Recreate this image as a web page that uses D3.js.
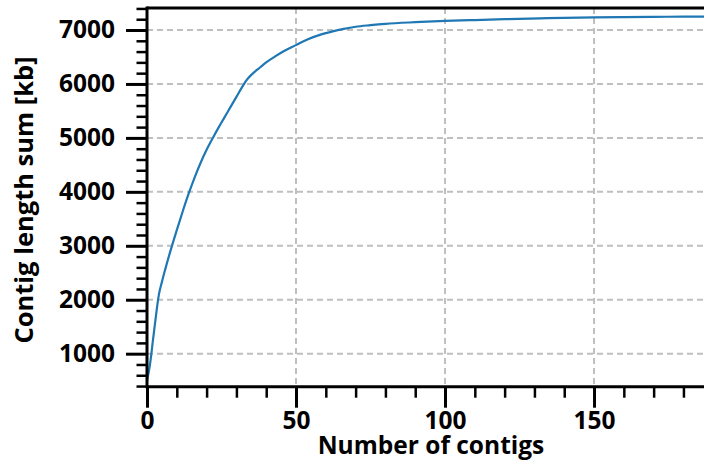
<!DOCTYPE html>
<html>
<head>
<meta charset="utf-8">
<script src="https://cdn.jsdelivr.net/npm/d3@7"></script>
<style>
  html, body { margin: 0; padding: 0; background: #fff; }
  svg { display: block; }
  text { font-family: "Open Sans", sans-serif; font-weight: 700; fill: #000; }
</style>
</head>
<body>
<svg id="chart" width="704" height="464"></svg>
<script>
// Data
const contigCount = [0, 1, 2, 3, 4, 5, 6, 8, 10, 12, 14, 16, 18, 20, 22, 24, 26, 28, 30, 32, 33, 34, 36, 38, 40, 43, 46, 50, 54, 58, 62, 66, 70, 75, 80, 90, 100, 110, 120, 132, 140, 150, 160, 170, 180, 187];
const lengthSumKb = [500, 800, 1250, 1700, 2100, 2330, 2540, 2930, 3290, 3640, 3970, 4270, 4540, 4780, 4990, 5190, 5380, 5570, 5760, 5950, 6040, 6110, 6220, 6310, 6400, 6510, 6610, 6720, 6830, 6910, 6970, 7020, 7060, 7090, 7115, 7145, 7168, 7185, 7200, 7216, 7226, 7235, 7240, 7244, 7247, 7249];
const xMajorTicks = [0, 50, 100, 150];
const xMinorTicks = [10, 20, 30, 40, 60, 70, 80, 90, 110, 120, 130, 140, 160, 170, 180];
const yMajorTicks = [1000, 2000, 3000, 4000, 5000, 6000, 7000];
const yMinorTicks = [400, 600, 800, 1200, 1400, 1600, 1800, 2200, 2400, 2600, 2800, 3200, 3400, 3600, 3800, 4200, 4400, 4600, 4800, 5200, 5400, 5600, 5800, 6200, 6400, 6600, 6800, 7200, 7400];
const xTitle = "Number of contigs";
const yTitle = "Contig length sum [kb]";

(function () {
const svg = d3.select("#chart");
const pLeft = 147, pRight = 704, pTop = 8, pBottom = 386.7;
const FONT = "Open Sans";
const FS = 24.5;

const x = d3.scaleLinear().domain([0, 186.9]).range([pLeft, pRight]);
const y = d3.scaleLinear().domain([388, 7408]).range([pBottom, pTop]);

// grid
const grid = svg.append("g").attr("stroke", "#bfbfbf").attr("stroke-width", 2).attr("stroke-dasharray", "6,4");
grid.selectAll("line.h").data(yMajorTicks).join("line").attr("class", "h")
  .attr("x1", pLeft).attr("x2", pRight).attr("y1", d => y(d)).attr("y2", d => y(d));
grid.selectAll("line.v").data(xMajorTicks.filter(d => d > 0)).join("line").attr("class", "v")
  .attr("y1", pTop).attr("y2", pBottom).attr("x1", d => x(d)).attr("x2", d => x(d));

// curve
const pts = contigCount.map((c, i) => [c, lengthSumKb[i]]);
svg.append("path").datum(pts)
  .attr("fill", "none").attr("stroke", "#1f77b4").attr("stroke-width", 2.2)
  .attr("stroke-linejoin", "round")
  .attr("d", d3.line().x(d => x(d[0])).y(d => y(d[1])).curve(d3.curveMonotoneX));

// axes
const xAxisMajor = d3.axisBottom(x).tickValues(xMajorTicks).tickSize(21).tickPadding(4).tickFormat(d3.format("d"));
const xAxisMinor = d3.axisBottom(x).tickValues(xMinorTicks).tickSize(11).tickFormat("");
const yAxisMajor = d3.axisLeft(y).tickValues(yMajorTicks).tickSize(21).tickPadding(11).tickFormat(d3.format("d"));
const yAxisMinor = d3.axisLeft(y).tickValues(yMinorTicks).tickSize(10.5).tickFormat("");

function styleAxis(g, w) {
  g.select(".domain").remove();
  g.selectAll(".tick line").attr("stroke", "#000").attr("stroke-width", w);
  g.selectAll(".tick text").attr("font-size", FS).attr("font-family", FONT).attr("font-weight", 700).attr("fill", "#000");
}
svg.append("g").attr("transform", `translate(0,${pBottom})`).call(xAxisMinor).call(g => styleAxis(g, 2.5));
svg.append("g").attr("transform", `translate(0,${pBottom})`).call(xAxisMajor).call(g => styleAxis(g, 3));
svg.append("g").attr("transform", `translate(${pLeft},0)`).call(yAxisMinor).call(g => styleAxis(g, 2.5));
svg.append("g").attr("transform", `translate(${pLeft},0)`).call(yAxisMajor).call(g => styleAxis(g, 3));

// spines
const sp = svg.append("g").attr("stroke", "#000").attr("stroke-width", 3);
sp.append("line").attr("x1", pLeft).attr("x2", pRight).attr("y1", pTop).attr("y2", pTop);
sp.append("line").attr("x1", pLeft).attr("x2", pRight).attr("y1", pBottom).attr("y2", pBottom);
sp.append("line").attr("x1", pLeft).attr("x2", pLeft).attr("y1", pTop - 1.5).attr("y2", pBottom + 1.5);

// titles
svg.append("text").attr("x", 431).attr("y", 454).attr("text-anchor", "middle")
  .attr("font-size", FS).text(xTitle);
svg.append("text").attr("transform", "translate(33,200) rotate(-90)").attr("text-anchor", "middle")
  .attr("font-size", 25.5).text(yTitle);
})();
</script>
</body>
</html>
